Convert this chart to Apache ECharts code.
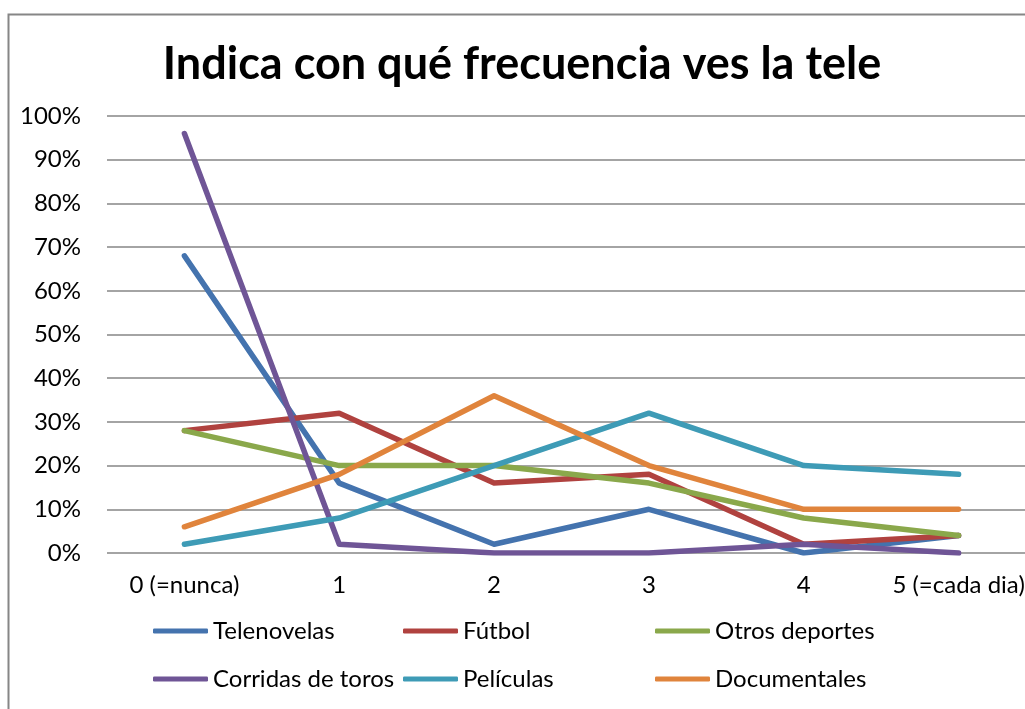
<!DOCTYPE html>
<html><head><meta charset="utf-8">
<script src="https://cdn.jsdelivr.net/npm/echarts@6/dist/echarts.min.js"></script>
<style>html,body{margin:0;padding:0;background:#fff}#c{width:1025px;height:709px}</style>
</head><body><div id="c"></div>
<script>
const categories = ['0 (=nunca)', '1', '2', '3', '4', '5 (=cada dia)'];
const seriesNames = ['Telenovelas', 'Fútbol', 'Otros deportes', 'Corridas de toros', 'Películas', 'Documentales'];
const telenovelas = [68, 16, 2, 10, 0, 4];
const futbol = [28, 32, 16, 18, 2, 4];
const otrosDeportes = [28, 20, 20, 16, 8, 4];
const corridas = [96, 2, 0, 0, 2, 0];
const peliculas = [2, 8, 20, 32, 20, 18];
const documentales = [6, 18, 36, 20, 10, 10];
const colors = ['#4473AE', '#B0423F', '#8AA84B', '#6F5596', '#3E9BB6', '#E0843C'];
const values = [telenovelas, futbol, otrosDeportes, corridas, peliculas, documentales];

const font = 'Lato';
const fs = 24;
const chart = echarts.init(document.getElementById('c'));
const legendLeft = [153, 403, 655];
const legendTop = [619, 667];
const legends = seriesNames.map((n, i) => ({
  data: [n], left: legendLeft[i % 3], top: legendTop[Math.floor(i / 3)],
  orient: 'horizontal', itemWidth: 55, itemHeight: 5, itemGap: 0, padding: 0,
  icon: 'roundRect',
  textStyle: {fontFamily: font, fontSize: fs, color: '#000', padding: [0, 0, 0, 0]}
}));
chart.setOption({
  animation: false,
  graphic: [{type: 'rect', left: 6, top: 12, shape: {x: 0, y: 0, width: 1040, height: 720},
    style: {fill: 'none', stroke: '#868686', lineWidth: 2}}],
  title: {text: 'Indica con qué frecuencia ves la tele', left: 517, textAlign: 'center', top: 37,
    textStyle: {fontFamily: font, fontSize: 45, fontWeight: 'bold', color: '#000'}},
  grid: {left: 107, width: 929, top: 116, height: 437, containLabel: false, outerBoundsMode: 'none'},
  legend: legends,
  xAxis: {type: 'category', data: categories, boundaryGap: true,
    axisLine: {show: false}, axisTick: {show: false},
    axisLabel: {interval: 0, fontFamily: font, fontSize: fs, color: '#000', margin: 20, hideOverlap: false}},
  yAxis: {type: 'value', min: 0, max: 100, interval: 10,
    axisLine: {show: false}, axisTick: {show: false},
    axisLabel: {formatter: '{value}%', fontFamily: font, fontSize: fs, color: '#000', margin: 26},
    splitLine: {lineStyle: {color: '#868686', width: 1.5}}},
  series: seriesNames.map((n, i) => ({
    name: n, type: 'line', data: values[i], showSymbol: false, symbol: 'none',
    itemStyle: {color: colors[i]},
    lineStyle: {color: colors[i], width: 5.5, cap: 'round', join: 'round'}
  }))
});
</script></body></html>
